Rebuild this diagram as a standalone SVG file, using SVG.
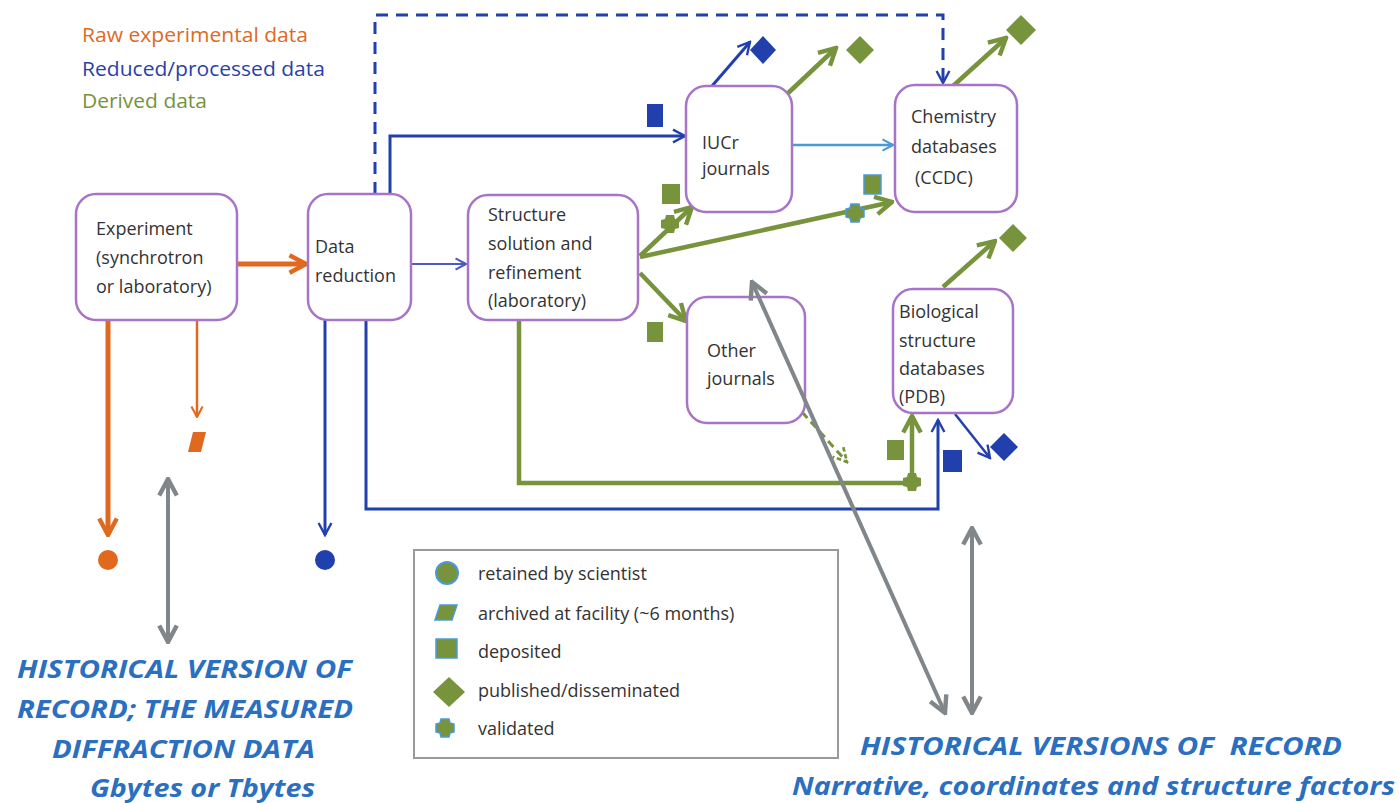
<svg xmlns="http://www.w3.org/2000/svg" xmlns:xlink="http://www.w3.org/1999/xlink" width="1399" height="803" viewBox="0 0 1399 803">
<style>
.node rect{fill:#fff;stroke:#a874c8;stroke-width:2.5}
.node text,.lg text{font-family:"Open Sans","Liberation Sans",sans-serif;font-size:18px;fill:#333}
.head{font-family:"Open Sans","Liberation Sans",sans-serif;font-size:20px}
.hist{font-family:"Open Sans","Liberation Sans",sans-serif;font-size:25px;font-weight:bold;font-style:italic;fill:#2a6fc0;white-space:pre}
.or{stroke:#e0691f;fill:none}
.bl{stroke:#2140ad;fill:none}
.gr{stroke:#77933c;fill:none}
.lb{stroke:#4a9ad8;fill:none}
.gy{stroke:#80868a;fill:none;stroke-width:4}
</style>
<defs>
<marker id="aO" viewBox="0 0 20 20" refX="18" refY="10" markerWidth="22" markerHeight="22" markerUnits="userSpaceOnUse" orient="auto"><path d="M3,2 L18,10 L3,18" fill="none" stroke="#e0691f" stroke-width="4"/></marker>
<marker id="aOs" viewBox="0 0 20 20" refX="18" refY="10" markerWidth="14" markerHeight="14" markerUnits="userSpaceOnUse" orient="auto"><path d="M3,2 L18,10 L3,18" fill="none" stroke="#e0691f" stroke-width="3"/></marker>
<marker id="aB" viewBox="0 0 20 20" refX="18" refY="10" markerWidth="16" markerHeight="16" markerUnits="userSpaceOnUse" orient="auto"><path d="M3,2 L18,10 L3,18" fill="none" stroke="#2140ad" stroke-width="3"/></marker>
<marker id="aBs" viewBox="0 0 20 20" refX="18" refY="10" markerWidth="14" markerHeight="14" markerUnits="userSpaceOnUse" orient="auto"><path d="M3,2 L18,10 L3,18" fill="none" stroke="#4a5cc0" stroke-width="3"/></marker>
<marker id="aL" viewBox="0 0 20 20" refX="18" refY="10" markerWidth="14" markerHeight="14" markerUnits="userSpaceOnUse" orient="auto"><path d="M3,2 L18,10 L3,18" fill="none" stroke="#4a9ad8" stroke-width="3"/></marker>
<marker id="aG" viewBox="0 0 20 20" refX="18" refY="10" markerWidth="22" markerHeight="22" markerUnits="userSpaceOnUse" orient="auto"><path d="M3,2 L18,10 L3,18" fill="none" stroke="#77933c" stroke-width="4"/></marker>
<marker id="aGd" viewBox="0 0 20 20" refX="18" refY="10" markerWidth="18" markerHeight="18" markerUnits="userSpaceOnUse" orient="auto"><path d="M3,2 L18,10 L3,18" fill="none" stroke="#77933c" stroke-width="3" stroke-dasharray="5 3"/></marker>
<marker id="aY" viewBox="0 0 20 20" refX="18" refY="10" markerWidth="22" markerHeight="22" markerUnits="userSpaceOnUse" orient="auto-start-reverse"><path d="M3,2 L18,10 L3,18" fill="none" stroke="#80868a" stroke-width="4"/></marker>
<path id="val" d="M-4,-9 H4 L5,-5 L9,-4 V4 L5,5 L4,9 H-4 L-5,5 L-9,4 V-4 L-5,-5 Z"/>
</defs>

<g id="legend-top">
<text class="head" x="82" y="42" fill="#e0691f" textLength="226" lengthAdjust="spacingAndGlyphs">Raw experimental data</text>
<text class="head" x="82" y="76" fill="#2a3fa8" textLength="243" lengthAdjust="spacingAndGlyphs">Reduced/processed data</text>
<text class="head" x="82" y="108" fill="#77933c" textLength="125" lengthAdjust="spacingAndGlyphs">Derived data</text>
</g>

<g id="connectors">
<line class="or" x1="237" y1="264" x2="306" y2="264" stroke-width="5" marker-end="url(#aO)"/>
<line class="or" x1="108" y1="320" x2="108" y2="535" stroke-width="5" marker-end="url(#aO)"/>
<line class="or" x1="197" y1="320" x2="197" y2="417" stroke-width="2.5" marker-end="url(#aOs)"/>
<line x1="411" y1="264" x2="466" y2="264" stroke="#4a5cc0" stroke-width="2" marker-end="url(#aBs)"/>
<line class="bl" x1="325" y1="320" x2="325" y2="535" stroke-width="3" marker-end="url(#aB)"/>
<polyline class="bl" points="366,320 366,509 938,509 938,420" stroke-width="3" marker-end="url(#aB)"/>
<polyline class="bl" points="390,194 390,136 685,136" stroke-width="3" marker-end="url(#aB)"/>
<polyline class="bl" points="375,194 375,15 943,15 943,83" stroke-width="3" stroke-dasharray="12 8" marker-end="url(#aB)"/>
<line class="bl" x1="712" y1="86" x2="750" y2="42" stroke-width="3" marker-end="url(#aB)"/>
<line class="bl" x1="955" y1="414" x2="990" y2="458" stroke-width="2.5" marker-end="url(#aB)"/>
<line class="lb" x1="792" y1="145" x2="893" y2="145" stroke-width="2.5" marker-end="url(#aL)"/>
<line class="gr" x1="786" y1="95" x2="836" y2="48" stroke-width="4.5" marker-end="url(#aG)"/>
<line class="gr" x1="953" y1="86" x2="1006" y2="38" stroke-width="4.5" marker-end="url(#aG)"/>
<line class="gr" x1="943" y1="287" x2="995" y2="241" stroke-width="4.5" marker-end="url(#aG)"/>
<line class="gr" x1="640" y1="256" x2="692" y2="207" stroke-width="4.5" marker-end="url(#aG)"/>
<line class="gr" x1="640" y1="257" x2="892" y2="202" stroke-width="4.5" marker-end="url(#aG)"/>
<line class="gr" x1="640" y1="273" x2="686" y2="321" stroke-width="4.5" marker-end="url(#aG)"/>
<polyline class="gr" points="519,320 519,483 912,483 912,416" stroke-width="4.5" marker-end="url(#aG)"/>
<line class="gr" x1="802" y1="412" x2="847" y2="462" stroke-width="3" stroke-dasharray="8 5" marker-end="url(#aGd)"/>
</g>

<g id="markers">
<circle cx="108" cy="560" r="10" fill="#e0691f"/>
<polygon points="193,432 206,432 201,452 188,452" fill="#e0691f"/>
<circle cx="325" cy="560" r="10" fill="#2140ad"/>
<rect x="647" y="104" width="16" height="23" fill="#2140ad"/>
<polygon points="763,36 776,50 763,64 750,50" fill="#2140ad"/>
<rect x="943" y="450" width="19" height="22" fill="#2140ad"/>
<polygon points="1004,433 1018,447 1004,461 990,447" fill="#2140ad"/>
<polygon points="860,36 874,50 860,64 846,50" fill="#77933c"/>
<polygon points="1021,15 1036,30 1021,45 1006,30" fill="#77933c"/>
<polygon points="1013,224 1027,238 1013,252 999,238" fill="#77933c"/>
<rect x="662" y="184" width="18" height="20" fill="#77933c"/>
<use href="#val" x="670" y="224" fill="#77933c"/>
<rect x="864" y="175" width="17" height="19" fill="#77933c" stroke="#4a9ad8" stroke-width="1.5"/>
<use href="#val" x="855" y="213" fill="#77933c" stroke="#4a9ad8" stroke-width="1.5"/>
<rect x="647" y="322" width="16" height="20" fill="#77933c"/>
<rect x="887" y="440" width="17" height="20" fill="#77933c"/>
<use href="#val" x="912" y="482" fill="#77933c"/>
</g>

<g id="n-experiment" class="node">
<rect x="76" y="194" width="161" height="126" rx="20"/>
<text x="96" y="235">Experiment</text>
<text x="96" y="264">(synchrotron</text>
<text x="96" y="293">or laboratory)</text>
</g>
<g id="n-datareduction" class="node">
<rect x="308" y="194" width="103" height="126" rx="20"/>
<text x="315" y="253">Data</text>
<text x="315" y="282">reduction</text>
</g>
<g id="n-structure" class="node">
<rect x="468" y="195" width="170" height="125" rx="20"/>
<text x="488" y="221">Structure</text>
<text x="488" y="250">solution and</text>
<text x="488" y="279">refinement</text>
<text x="488" y="307">(laboratory)</text>
</g>
<g id="n-iucr" class="node">
<rect x="686" y="86" width="106" height="126" rx="20"/>
<text x="702" y="149">IUCr</text>
<text x="702" y="175">journals</text>
</g>
<g id="n-ccdc" class="node">
<rect x="895" y="85" width="122" height="127" rx="20"/>
<text x="911" y="123">Chemistry</text>
<text x="911" y="153">databases</text>
<text x="915" y="184">(CCDC)</text>
</g>
<g id="n-other" class="node">
<rect x="687" y="297" width="118" height="126" rx="20"/>
<text x="707" y="357">Other</text>
<text x="707" y="385">journals</text>
</g>
<g id="n-bio" class="node">
<rect x="893" y="289" width="120" height="124" rx="20"/>
<text x="899" y="318">Biological</text>
<text x="899" y="347">structure</text>
<text x="899" y="375">databases</text>
<text x="899" y="403">(PDB)</text>
</g>

<g id="legend" class="lg">
<rect x="414" y="550" width="424" height="208" fill="#fff" stroke="#9a9a9a" stroke-width="2"/>
<circle cx="447" cy="573" r="11" fill="#77933c" stroke="#4a9ad8" stroke-width="2"/>
<text x="478" y="580">retained by scientist</text>
<polygon points="440,605 457,605 452,620 435,620" fill="#77933c" stroke="#4a9ad8" stroke-width="1.5"/>
<text x="478" y="620">archived at facility (~6 months)</text>
<rect x="436" y="639" width="21" height="19" fill="#77933c" stroke="#4a9ad8" stroke-width="1.5"/>
<text x="478" y="658">deposited</text>
<polygon points="449,677 465,692 449,707 433,692" fill="#77933c"/>
<text x="478" y="697">published/disseminated</text>
<use href="#val" x="445" y="728" fill="#77933c" stroke="#4a9ad8" stroke-width="1.5"/>
<text x="478" y="735">validated</text>
</g>

<g id="connectors-gray">
<line class="gy" x1="168" y1="479" x2="168" y2="642" marker-start="url(#aY)" marker-end="url(#aY)"/>
<line class="gy" x1="972" y1="528" x2="972" y2="713" marker-start="url(#aY)" marker-end="url(#aY)"/>
<line class="gy" x1="752" y1="282" x2="945" y2="713" marker-start="url(#aY)" marker-end="url(#aY)"/>
</g>

<g id="hist-left">
<text class="hist" x="17" y="678" textLength="335" lengthAdjust="spacingAndGlyphs">HISTORICAL VERSION OF</text>
<text class="hist" x="17" y="718" textLength="336" lengthAdjust="spacingAndGlyphs">RECORD; THE MEASURED</text>
<text class="hist" x="52" y="758" textLength="263" lengthAdjust="spacingAndGlyphs">DIFFRACTION DATA</text>
<text class="hist" x="90" y="797" textLength="225" lengthAdjust="spacingAndGlyphs">Gbytes or Tbytes</text>
</g>
<g id="hist-right">
<text class="hist" x="860" y="755" textLength="482" lengthAdjust="spacingAndGlyphs">HISTORICAL VERSIONS OF  RECORD</text>
<text class="hist" x="792" y="795" textLength="603" lengthAdjust="spacingAndGlyphs">Narrative, coordinates and structure factors</text>
</g>
</svg>
